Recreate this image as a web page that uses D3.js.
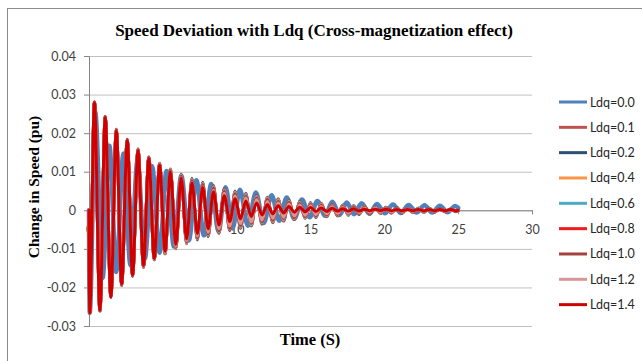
<!DOCTYPE html>
<html>
<head>
<meta charset="utf-8">
<script src="https://cdn.jsdelivr.net/npm/d3@7"></script>
<style>
  body { margin: 0; background: #fff; }
  svg { display: block; }
</style>
</head>
<body>
<svg id="chart" width="642" height="361"></svg>
<script>
// axes
var xTicks = [0, 5, 10, 15, 20, 25, 30];
var yTicks = [-0.03, -0.02, -0.01, 0, 0.01, 0.02, 0.03, 0.04];

// times (s) of the oscillation extremes
// Ldq=0.1 ... 1.4 share the same frequency
var peakTimes = [0.37, 1.10, 1.85, 2.59, 3.32, 4.05, 4.78, 5.51, 6.24, 6.97, 7.70, 8.43, 9.16, 9.89, 10.62,
  11.35, 12.08, 12.81, 13.54, 14.27, 15.00, 15.73, 16.46, 17.19, 17.92, 18.65, 19.38, 20.11, 20.84, 21.57,
  22.30, 23.03, 23.76, 24.49];
var troughTimes = [0.05, 0.74, 1.48, 2.21, 2.95, 3.69, 4.42, 5.15, 5.88, 6.61, 7.34, 8.07, 8.80, 9.53, 10.26,
  10.99, 11.72, 12.45, 13.18, 13.91, 14.64, 15.37, 16.10, 16.83, 17.56, 18.29, 19.02, 19.75, 20.48, 21.21,
  21.94, 22.67, 23.40, 24.13, 24.86];
// Ldq=0.0 swings slower
var bluePeakTimes = [0.42, 1.38, 2.33, 3.29, 4.27, 5.25, 6.25, 7.27, 8.28, 9.25, 10.22, 11.30, 12.37, 13.39,
  14.42, 15.47, 16.48, 17.45, 18.46, 19.50, 20.58, 21.65, 22.72, 23.76, 24.80];
var blueTroughTimes = [0.05, 0.92, 1.85, 2.81, 3.78, 4.78, 5.75, 6.76, 7.78, 8.77, 9.72, 10.76, 11.83, 12.88,
  13.90, 14.95, 15.98, 16.97, 17.95, 18.98, 20.04, 21.12, 22.18, 23.24, 24.28];

// speed deviation (pu) at those extremes
var ldq00Peaks = [0.0255, 0.0167, 0.0147, 0.0130, 0.0114, 0.0102, 0.0090, 0.0078, 0.0068, 0.0060, 0.0053,
  0.0046, 0.0039, 0.0033, 0.0028, 0.0024, 0.0022, 0.0020, 0.0018, 0.0016, 0.0015, 0.0014, 0.0013, 0.0012, 0.0011];
var ldq00Troughs = [-0.0266, -0.0175, -0.0160, -0.0143, -0.0126, -0.0110, -0.0094, -0.0078, -0.0065, -0.0055,
  -0.0047, -0.0040, -0.0033, -0.0027, -0.0022, -0.0018, -0.0014, -0.0012, -0.0010, -0.0009, -0.0008, -0.0007,
  -0.0006, -0.0006, -0.0005];

var ldq01Peaks = [0.0281, 0.0243, 0.0210, 0.0184, 0.0159, 0.0138, 0.0122, 0.0107, 0.0094, 0.0083, 0.0073,
  0.0064, 0.0057, 0.0050, 0.0044, 0.0039, 0.0034, 0.0030, 0.0026, 0.0023, 0.0020, 0.0018, 0.0016, 0.0014,
  0.0012, 0.0011, 0.0009, 0.0008, 0.0007, 0.0006, 0.0006, 0.0005, 0.0004, 0.0004];
var ldq01Troughs = [-0.0266, -0.0261, -0.0226, -0.0195, -0.0171, -0.0148, -0.0128, -0.0113, -0.0100, -0.0087,
  -0.0077, -0.0068, -0.0060, -0.0053, -0.0047, -0.0041, -0.0036, -0.0032, -0.0028, -0.0024, -0.0021, -0.0019,
  -0.0017, -0.0015, -0.0013, -0.0011, -0.0010, -0.0008, -0.0007, -0.0007, -0.0006, -0.0006, -0.0005, -0.0004, -0.0004];

var ldq02Peaks = [0.0281, 0.0243, 0.0210, 0.0184, 0.0159, 0.0138, 0.0121, 0.0106, 0.0093, 0.0082, 0.0072,
  0.0063, 0.0055, 0.0048, 0.0042, 0.0037, 0.0032, 0.0028, 0.0025, 0.0022, 0.0019, 0.0017, 0.0015, 0.0013,
  0.0011, 0.0010, 0.0009, 0.0008, 0.0007, 0.0006, 0.0005, 0.0005, 0.0004, 0.0003];
var ldq02Troughs = [-0.0266, -0.0261, -0.0226, -0.0195, -0.0171, -0.0148, -0.0128, -0.0113, -0.0099, -0.0086,
  -0.0076, -0.0067, -0.0059, -0.0051, -0.0045, -0.0039, -0.0034, -0.0030, -0.0026, -0.0023, -0.0020, -0.0018,
  -0.0016, -0.0014, -0.0012, -0.0010, -0.0009, -0.0008, -0.0007, -0.0007, -0.0006, -0.0005, -0.0005, -0.0004, -0.0003];

var ldq04Peaks = [0.0281, 0.0243, 0.0210, 0.0183, 0.0158, 0.0137, 0.0121, 0.0106, 0.0092, 0.0080, 0.0070,
  0.0061, 0.0053, 0.0047, 0.0041, 0.0036, 0.0031, 0.0027, 0.0024, 0.0021, 0.0018, 0.0016, 0.0014, 0.0012,
  0.0010, 0.0009, 0.0008, 0.0007, 0.0006, 0.0005, 0.0005, 0.0004, 0.0003, 0.0003];
var ldq04Troughs = [-0.0266, -0.0261, -0.0226, -0.0195, -0.0170, -0.0147, -0.0127, -0.0113, -0.0099, -0.0086,
  -0.0074, -0.0065, -0.0057, -0.0049, -0.0044, -0.0038, -0.0033, -0.0029, -0.0025, -0.0022, -0.0020, -0.0017,
  -0.0015, -0.0013, -0.0011, -0.0009, -0.0008, -0.0007, -0.0007, -0.0006, -0.0005, -0.0005, -0.0004, -0.0003, -0.0003];

var ldq06Peaks = [0.0280, 0.0242, 0.0209, 0.0183, 0.0158, 0.0137, 0.0120, 0.0104, 0.0090, 0.0078, 0.0068,
  0.0059, 0.0051, 0.0045, 0.0039, 0.0034, 0.0029, 0.0025, 0.0022, 0.0019, 0.0017, 0.0014, 0.0012, 0.0011,
  0.0009, 0.0008, 0.0007, 0.0006, 0.0005, 0.0005, 0.0004, 0.0003, 0.0003, 0.0003];
var ldq06Troughs = [-0.0266, -0.0260, -0.0225, -0.0194, -0.0170, -0.0147, -0.0127, -0.0112, -0.0097, -0.0084,
  -0.0073, -0.0063, -0.0055, -0.0047, -0.0042, -0.0036, -0.0032, -0.0027, -0.0023, -0.0020, -0.0018, -0.0016,
  -0.0013, -0.0011, -0.0010, -0.0008, -0.0007, -0.0007, -0.0006, -0.0005, -0.0005, -0.0004, -0.0003, -0.0003, -0.0003];

var ldq08Peaks = [0.0280, 0.0242, 0.0209, 0.0182, 0.0157, 0.0136, 0.0119, 0.0103, 0.0088, 0.0076, 0.0066,
  0.0057, 0.0049, 0.0042, 0.0036, 0.0031, 0.0027, 0.0023, 0.0020, 0.0017, 0.0015, 0.0013, 0.0011, 0.0009,
  0.0008, 0.0007, 0.0006, 0.0005, 0.0004, 0.0004, 0.0003, 0.0003, 0.0002, 0.0002];
var ldq08Troughs = [-0.0266, -0.0260, -0.0225, -0.0194, -0.0169, -0.0146, -0.0126, -0.0111, -0.0096, -0.0082,
  -0.0071, -0.0061, -0.0053, -0.0046, -0.0039, -0.0033, -0.0029, -0.0025, -0.0021, -0.0019, -0.0016, -0.0014,
  -0.0012, -0.0010, -0.0008, -0.0007, -0.0007, -0.0006, -0.0005, -0.0004, -0.0004, -0.0003, -0.0003, -0.0002, -0.0002];

var ldq10Peaks = [0.0280, 0.0242, 0.0208, 0.0182, 0.0156, 0.0135, 0.0118, 0.0101, 0.0086, 0.0074, 0.0063,
  0.0054, 0.0046, 0.0040, 0.0034, 0.0029, 0.0025, 0.0021, 0.0018, 0.0016, 0.0013, 0.0011, 0.0010, 0.0008,
  0.0007, 0.0006, 0.0005, 0.0004, 0.0004, 0.0003, 0.0003, 0.0002, 0.0002, 0.0002];
var ldq10Troughs = [-0.0266, -0.0260, -0.0225, -0.0193, -0.0169, -0.0145, -0.0126, -0.0110, -0.0094, -0.0080,
  -0.0069, -0.0059, -0.0050, -0.0043, -0.0037, -0.0032, -0.0027, -0.0023, -0.0020, -0.0017, -0.0015, -0.0012,
  -0.0010, -0.0009, -0.0007, -0.0007, -0.0006, -0.0005, -0.0004, -0.0004, -0.0003, -0.0003, -0.0002, -0.0002, -0.0002];

var ldq12Peaks = [0.0279, 0.0241, 0.0208, 0.0181, 0.0156, 0.0135, 0.0118, 0.0100, 0.0085, 0.0072, 0.0061,
  0.0052, 0.0044, 0.0037, 0.0032, 0.0027, 0.0023, 0.0019, 0.0016, 0.0014, 0.0012, 0.0010, 0.0009, 0.0007,
  0.0006, 0.0005, 0.0005, 0.0004, 0.0003, 0.0003, 0.0002, 0.0002, 0.0002, 0.0001];
var ldq12Troughs = [-0.0266, -0.0259, -0.0224, -0.0193, -0.0168, -0.0145, -0.0126, -0.0110, -0.0093, -0.0079,
  -0.0067, -0.0057, -0.0048, -0.0041, -0.0034, -0.0030, -0.0025, -0.0021, -0.0018, -0.0015, -0.0013, -0.0011,
  -0.0009, -0.0008, -0.0007, -0.0006, -0.0005, -0.0005, -0.0004, -0.0003, -0.0003, -0.0002, -0.0002, -0.0002, -0.0001];

var ldq14Peaks = [0.0279, 0.0241, 0.0207, 0.0181, 0.0155, 0.0134, 0.0117, 0.0099, 0.0084, 0.0071, 0.0059,
  0.0048, 0.0038, 0.0030, 0.0024, 0.0019, 0.0015, 0.0012, 0.0010, 0.0008, 0.0007, 0.0006, 0.0005, 0.0004,
  0.0004, 0.0003, 0.0003, 0.0003, 0.0002, 0.0002, 0.0002, 0.0002, 0.0002, 0.0002];
var ldq14Troughs = [-0.0266, -0.0259, -0.0225, -0.0192, -0.0168, -0.0143, -0.0125, -0.0106, -0.0089, -0.0074,
  -0.0060, -0.0048, -0.0038, -0.0029, -0.0022, -0.0016, -0.0012, -0.0009, -0.0007, -0.0005, -0.0004, -0.0003,
  -0.0003, -0.0002, -0.0002, -0.0002, -0.0001, -0.0001, -0.0001, -0.0001, -0.0001, -0.0001, -0.0001, -0.0001, -0.0001];

var series = [
  { name: "Ldq=0.0", color: "#4f81bd", w: 4.5, pt: bluePeakTimes, tt: blueTroughTimes, p: ldq00Peaks, t: ldq00Troughs, end: 0.0006 },
  { name: "Ldq=0.1", color: "#c0504d", w: 3, pt: peakTimes, tt: troughTimes, p: ldq01Peaks, t: ldq01Troughs, end: 0 },
  { name: "Ldq=0.2", color: "#2c4d75", w: 3, pt: peakTimes, tt: troughTimes, p: ldq02Peaks, t: ldq02Troughs, end: 0 },
  { name: "Ldq=0.4", color: "#f79646", w: 3, pt: peakTimes, tt: troughTimes, p: ldq04Peaks, t: ldq04Troughs, end: 0 },
  { name: "Ldq=0.6", color: "#4bacc6", w: 3, pt: peakTimes, tt: troughTimes, p: ldq06Peaks, t: ldq06Troughs, end: 0 },
  { name: "Ldq=0.8", color: "#ee1c1c", w: 3, pt: peakTimes, tt: troughTimes, p: ldq08Peaks, t: ldq08Troughs, end: 0 },
  { name: "Ldq=1.0", color: "#a5413f", w: 3, pt: peakTimes, tt: troughTimes, p: ldq10Peaks, t: ldq10Troughs, end: 0 },
  { name: "Ldq=1.2", color: "#d99694", w: 3, pt: peakTimes, tt: troughTimes, p: ldq12Peaks, t: ldq12Troughs, end: 0 },
  { name: "Ldq=1.4", color: "#d00000", w: 3, pt: peakTimes, tt: troughTimes, p: ldq14Peaks, t: ldq14Troughs, end: 0 }
];

var svg = d3.select("#chart");

// chart frame
svg.append("rect")
    .attr("x", 7.5).attr("y", 8.5)
    .attr("width", 700).attr("height", 400)
    .attr("fill", "#fff")
    .attr("stroke", "#8c8c8c");

var x = d3.scaleLinear().domain([0, 30]).range([89, 532]);
var y = d3.scaleLinear().domain([-0.03, 0.04]).range([326, 56]);

// gridlines
svg.append("g")
    .attr("transform", "translate(" + x(0) + ",0)")
    .call(d3.axisLeft(y).tickValues(yTicks).tickSize(-(x(30) - x(0))).tickFormat(""))
    .call(function (g) { g.select(".domain").remove(); })
    .selectAll("line").attr("stroke", "#c0c0c0");

// y axis
var yAxis = svg.append("g")
    .attr("transform", "translate(" + x(0) + ",0)")
    .call(d3.axisLeft(y).tickValues(yTicks).tickSize(5).tickPadding(8)
        .tickFormat(function (d) { return d === 0 ? "0" : d.toFixed(2); }));

// x axis sits on zero
var xAxis = svg.append("g")
    .attr("transform", "translate(0," + y(0) + ")")
    .call(d3.axisBottom(x).tickValues(xTicks).tickSize(4).tickPadding(11));

[yAxis, xAxis].forEach(function (g) {
  g.selectAll(".domain, line").attr("stroke", "#868686");
  g.selectAll("text")
      .attr("fill", "#404040")
      .style("font-family", "Lato, 'Open Sans', sans-serif")
      .style("font-size", "12.5px");
});

// curves through the extremes
var line = d3.line()
    .x(function (d) { return x(d[0]); })
    .y(function (d) { return y(d[1]); })
    .curve(d3.curveMonotoneX);

series.forEach(function (s) {
  var pts = [[0, 0]];
  s.tt.forEach(function (tm, i) { if (i < s.t.length) pts.push([tm, s.t[i]]); });
  s.pt.forEach(function (tm, i) { if (i < s.p.length) pts.push([tm, s.p[i]]); });
  pts.sort(function (a, b) { return a[0] - b[0]; });
  pts.push([25, s.end]);
  svg.append("path")
      .datum(pts)
      .attr("d", line)
      .attr("fill", "none")
      .attr("stroke", s.color)
      .attr("stroke-width", s.w)
      .attr("stroke-linejoin", "round")
      .attr("stroke-linecap", "round");
});

// titles
var serif = "'Liberation Serif', 'Times New Roman', serif";

svg.append("text")
    .attr("x", 314).attr("y", 36)
    .attr("text-anchor", "middle")
    .style("font-family", serif)
    .style("font-weight", "bold")
    .style("font-size", "17px")
    .text("Speed Deviation with Ldq (Cross-magnetization effect)");

svg.append("text")
    .attr("transform", "translate(39,187) rotate(-90)")
    .attr("text-anchor", "middle")
    .style("font-family", serif)
    .style("font-weight", "bold")
    .style("font-size", "15.5px")
    .text("Change in Speed (pu)");

svg.append("text")
    .attr("x", 310).attr("y", 345)
    .attr("text-anchor", "middle")
    .style("font-family", serif)
    .style("font-weight", "bold")
    .style("font-size", "16.5px")
    .text("Time (S)");

// legend
var legend = svg.append("g")
    .selectAll("g")
    .data(series)
    .join("g")
    .attr("transform", function (d, i) { return "translate(559," + (102 + i * 25.33) + ")"; });

legend.append("line")
    .attr("x1", 0).attr("x2", 28)
    .attr("stroke", function (d) { return d.color; })
    .attr("stroke-width", 3);

legend.append("text")
    .attr("x", 31).attr("y", 4.5)
    .attr("fill", "#262626")
    .style("font-family", "Lato, 'Open Sans', sans-serif")
    .style("font-size", "12.5px")
    .text(function (d) { return d.name; });
</script>
</body>
</html>
